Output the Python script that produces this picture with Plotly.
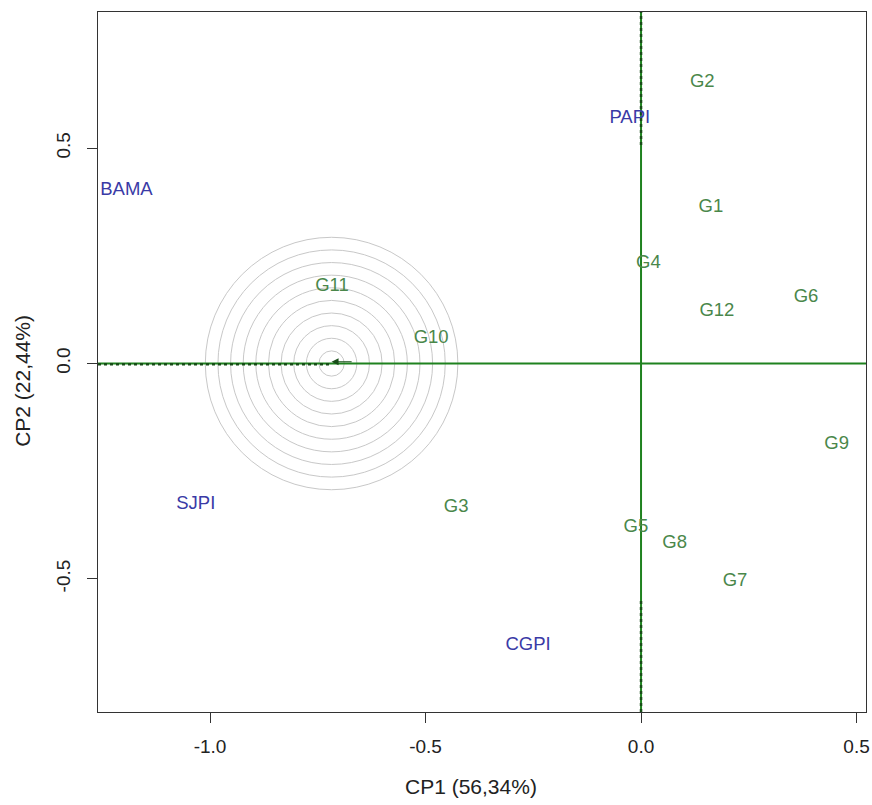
import plotly.graph_objects as go

# Genotype scores on the first two principal components
genotypes = ["G1", "G2", "G3", "G4", "G5", "G6", "G7", "G8", "G9", "G10", "G11", "G12"]
geno_cp1 = [0.162, 0.142, -0.429, 0.017, -0.012, 0.383, 0.218, 0.078, 0.454, -0.487, -0.717, 0.176]
geno_cp2 = [0.363, 0.653, -0.335, 0.233, -0.381, 0.153, -0.506, -0.417, -0.187, 0.059, 0.178, 0.120]

# Environment scores
environments = ["BAMA", "PAPI", "SJPI", "CGPI"]
env_cp1 = [-1.194, -0.026, -1.033, -0.262]
env_cp2 = [0.401, 0.570, -0.326, -0.655]

# Ideal point and concentric rings around it
ideal_cp1 = -0.718
ideal_cp2 = 0.0
ring_step = 0.0293
n_rings = 10

# Axis extents and ticks
x_range = [-1.260, 0.522]
y_range = [-0.809, 0.816]
x_ticks = [-1.0, -0.5, 0.0, 0.5]
x_tick_text = ["-1.0", "-0.5", "0.0", "0.5"]
y_ticks = [-0.5, 0.0, 0.5]
y_tick_text = ["-0.5", "0.0", "0.5"]

# Where the ordinate line switches between solid and dotted
vert_solid_top = 0.507
vert_solid_bottom = -0.546

LINE_GREEN = "#1f821f"
DOT_GREEN = "#174d17"
LABEL_GREEN = "#4a874a"
LABEL_BLUE = "#3a3aa6"
FONT = "Liberation Sans, Arial, sans-serif"

fig = go.Figure()

# Concentric rings
shapes = []
for k in range(1, n_rings + 1):
    r = k * ring_step
    shapes.append(dict(type="circle", xref="x", yref="y",
                       x0=ideal_cp1 - r, x1=ideal_cp1 + r,
                       y0=ideal_cp2 - r, y1=ideal_cp2 + r,
                       line=dict(color="#c8c8c8", width=1), layer="below"))

# Abscissa through the ideal point: solid on the right, dotted on the left
fig.add_trace(go.Scatter(x=[x_range[0], x_range[1]], y=[ideal_cp2, ideal_cp2],
                         mode="lines", line=dict(color=LINE_GREEN, width=2),
                         hoverinfo="skip", showlegend=False))
fig.add_trace(go.Scatter(x=[x_range[0], ideal_cp1], y=[ideal_cp2 - 0.002, ideal_cp2 - 0.002],
                         mode="lines", line=dict(color=DOT_GREEN, width=2.5, dash="dot"),
                         hoverinfo="skip", showlegend=False))

# Ordinate through the origin
fig.add_trace(go.Scatter(x=[0.0, 0.0], y=[y_range[0], y_range[1]],
                         mode="lines", line=dict(color=LINE_GREEN, width=2),
                         hoverinfo="skip", showlegend=False))
fig.add_trace(go.Scatter(x=[0.0, 0.0], y=[vert_solid_top, y_range[1]],
                         mode="lines", line=dict(color=DOT_GREEN, width=2.5, dash="dot"),
                         hoverinfo="skip", showlegend=False))
fig.add_trace(go.Scatter(x=[0.0, 0.0], y=[y_range[0], vert_solid_bottom],
                         mode="lines", line=dict(color=DOT_GREEN, width=2.5, dash="dot"),
                         hoverinfo="skip", showlegend=False))

# Genotype labels
fig.add_trace(go.Scatter(x=geno_cp1, y=geno_cp2, mode="text", text=genotypes,
                         textposition="middle center",
                         textfont=dict(family=FONT, size=18.5, color=LABEL_GREEN),
                         hoverinfo="text", showlegend=False))

# Environment labels
fig.add_trace(go.Scatter(x=env_cp1, y=env_cp2, mode="text", text=environments,
                         textposition="middle center",
                         textfont=dict(family=FONT, size=18.5, color=LABEL_BLUE),
                         hoverinfo="text", showlegend=False))

annotations = [
    # arrowhead at the ideal point
    dict(x=ideal_cp1, y=ideal_cp2 + 0.004, ax=ideal_cp1 + 0.05, ay=ideal_cp2 + 0.004,
         xref="x", yref="y", axref="x", ayref="y", text="", showarrow=True,
         arrowhead=2, arrowsize=1.4, arrowwidth=1, arrowcolor=DOT_GREEN),
    dict(text="CP1 (56,34%)", xref="paper", yref="paper", x=0.4857, y=-0.107,
         xanchor="center", yanchor="middle", showarrow=False,
         font=dict(family=FONT, size=21, color="#222")),
    dict(text="CP2 (22,44%)", xref="paper", yref="paper", x=-0.0977, y=0.473,
         xanchor="center", yanchor="middle", showarrow=False, textangle=-90,
         font=dict(family=FONT, size=21, color="#222")),
]

axis_common = dict(showgrid=False, zeroline=False, showline=True, mirror=True,
                   linecolor="#333333", linewidth=1, ticks="outside", ticklen=10,
                   tickcolor="#333333", tickwidth=1, automargin=False,
                   tickfont=dict(family=FONT, size=19, color="#222"))

fig.update_layout(
    width=872, height=805,
    margin=dict(l=98, r=6, t=12, b=93),
    paper_bgcolor="white", plot_bgcolor="white",
    xaxis=dict(range=x_range, tickvals=x_ticks, ticktext=x_tick_text,
               ticklabelstandoff=7, **axis_common),
    yaxis=dict(range=y_range, tickvals=y_ticks, ticktext=y_tick_text, tickangle=-90,
               ticklabelstandoff=9, **axis_common),
    shapes=shapes,
    annotations=annotations,
)

fig.write_html("out.html")
